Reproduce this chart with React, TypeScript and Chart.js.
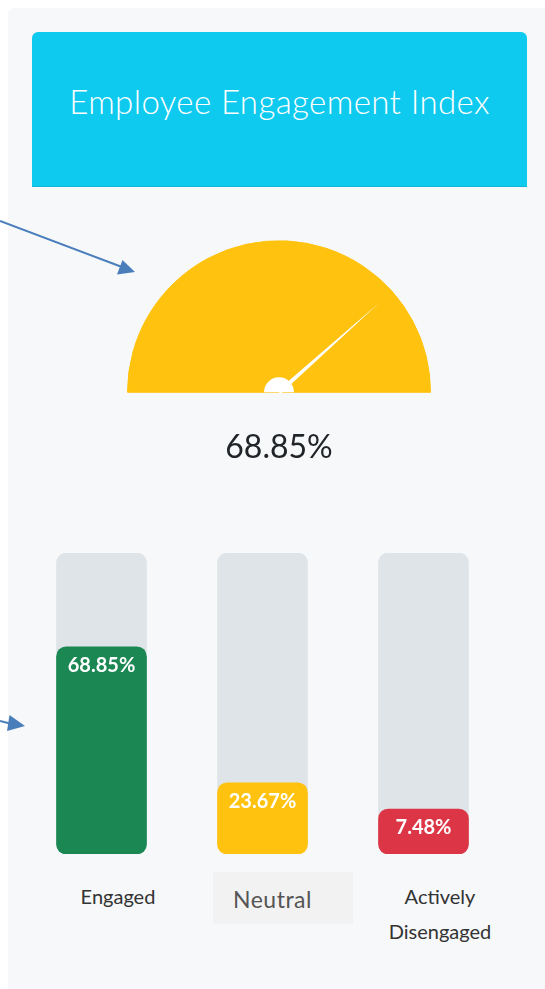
import React, { useEffect, useRef } from "react";
import { Chart, registerables } from "chart.js";

Chart.register(...registerables);

// ---- data ----
const titleText = "Employee Engagement Index";
const gaugeValue = 68.85;
const needleValue = 76.8; // needle angle as drawn in the reference (percent of half circle)
const categories = ["Engaged", "Neutral", "Actively Disengaged"];
const categoryLines = [["Engaged"], ["Neutral"], ["Actively", "Disengaged"]];
const values = [68.85, 23.67, 7.48];
const trackValues = [100, 100, 100];
const barColors = ["#1b8753", "#ffc20e", "#dc3545"];
const trackColor = "#dee4e8";
const gaugeColor = "#ffc20e";

const FONT = "Lato, 'Open Sans', sans-serif";

function Gauge() {
  const ref = useRef<HTMLCanvasElement | null>(null);
  useEffect(() => {
    if (!ref.current) return;
    const gaugePlugin = {
      id: "gaugeNeedle",
      afterDatasetsDraw(chart: any) {
        const el = chart.getDatasetMeta(0).data[0] as any;
        if (!el) return;
        const ctx = chart.ctx;
        const cx = el.x;
        const cy = el.y;
        const R = el.outerRadius;
        const ang = Math.PI * (1 + needleValue / 100);
        const len = R * 0.89;
        const tx = cx + Math.cos(ang) * len;
        const ty = cy + Math.sin(ang) * len;
        const px = Math.cos(ang + Math.PI / 2) * 2.2;
        const py = Math.sin(ang + Math.PI / 2) * 2.2;
        ctx.save();
        ctx.fillStyle = "#ffffff";
        ctx.beginPath();
        ctx.moveTo(cx + px, cy + py);
        ctx.lineTo(tx, ty);
        ctx.lineTo(cx - px, cy - py);
        ctx.closePath();
        ctx.fill();
        ctx.beginPath();
        ctx.arc(cx, cy, 15, Math.PI, 2 * Math.PI);
        ctx.closePath();
        ctx.fill();
        ctx.fillStyle = "#212529";
        ctx.font = `400 32px ${FONT}`;
        ctx.textAlign = "center";
        ctx.textBaseline = "alphabetic";
        ctx.fillText(gaugeValue.toFixed(2) + "%", cx, cy + 66);
        ctx.restore();
      },
    };
    const chart = new Chart(ref.current, {
      type: "doughnut",
      data: {
        labels: ["value", "rest"],
        datasets: [
          {
            data: [gaugeValue, 100 - gaugeValue],
            backgroundColor: [gaugeColor, gaugeColor],
            borderColor: [gaugeColor, gaugeColor],
            borderWidth: 1,
          },
        ],
      },
      options: {
        responsive: false,
        animation: false,
        rotation: -90,
        circumference: 180,
        cutout: 0,
        layout: { padding: { bottom: 80 } },
        plugins: { legend: { display: false }, tooltip: { enabled: false } },
      },
      plugins: [gaugePlugin],
    });
    return () => chart.destroy();
  }, []);
  return (
    <canvas
      ref={ref}
      width={304}
      height={233}
      style={{ position: "absolute", left: 127, top: 240, width: 304, height: 233 }}
    />
  );
}

function Bars() {
  const ref = useRef<HTMLCanvasElement | null>(null);
  useEffect(() => {
    if (!ref.current) return;
    const labelPlugin = {
      id: "barLabels",
      afterDatasetsDraw(chart: any) {
        const meta = chart.getDatasetMeta(0);
        const ctx = chart.ctx;
        ctx.save();
        ctx.fillStyle = "#ffffff";
        ctx.font = `700 20px ${FONT}`;
        ctx.textAlign = "center";
        ctx.textBaseline = "middle";
        meta.data.forEach((el: any, i: number) => {
          ctx.fillText(values[i].toFixed(2) + "%", el.x, el.y + 19);
        });
        ctx.restore();
      },
    };
    const chart = new Chart(ref.current, {
      type: "bar",
      data: {
        labels: categories,
        datasets: [
          {
            data: values,
            backgroundColor: barColors,
            barThickness: 90,
            borderRadius: 10,
            borderSkipped: false,
            minBarLength: 45,
            grouped: false,
          } as any,
          {
            data: trackValues,
            backgroundColor: trackColor,
            barThickness: 90,
            borderRadius: 10,
            borderSkipped: false,
            grouped: false,
          } as any,
        ],
      },
      options: {
        responsive: false,
        animation: false,
        layout: { padding: 0 },
        scales: {
          x: { display: false },
          y: { display: false, min: 0, max: 100 },
        },
        plugins: { legend: { display: false }, tooltip: { enabled: false } },
      },
      plugins: [labelPlugin],
    });
    return () => chart.destroy();
  }, []);
  return (
    <canvas
      ref={ref}
      width={483}
      height={301}
      style={{ position: "absolute", left: 21, top: 553, width: 483, height: 301 }}
    />
  );
}

export default function App() {
  const labelBase: React.CSSProperties = {
    position: "absolute",
    fontFamily: FONT,
    fontSize: 20,
    color: "#333333",
    textAlign: "center",
    whiteSpace: "nowrap",
  };
  return (
    <div style={{ position: "relative", width: 545, height: 989, overflow: "hidden" }}>
      <style>{"body{margin:0;overflow:hidden;}"}</style>
      <div
        style={{
          position: "absolute",
          left: 8,
          top: 8,
          width: 537,
          height: 981,
          background: "#f7f8fa",
          borderTopLeftRadius: 6,
        }}
      />
      <div
        style={{
          position: "absolute",
          left: 32,
          top: 32,
          width: 495,
          height: 154,
          background: "#0fcaef",
          borderTopLeftRadius: 6,
          borderTopRightRadius: 6,
          borderBottom: "1px solid #10b5d6",
        }}
      />
      <div
        style={{
          position: "absolute",
          left: 32,
          top: 80.5,
          width: 495,
          textAlign: "center",
          fontFamily: FONT,
          fontWeight: 300,
          fontSize: 33,
          lineHeight: "40px",
          letterSpacing: 0.4,
          color: "#ffffff",
          whiteSpace: "nowrap",
        }}
      >
        {titleText}
      </div>
      <Gauge />
      <Bars />
      <div style={{ ...labelBase, left: 58, top: 884, width: 120, lineHeight: "24px" }}>
        {categoryLines[0][0]}
      </div>
      <div
        style={{
          position: "absolute",
          left: 213,
          top: 872,
          width: 140,
          height: 52,
          background: "#f2f2f2",
        }}
      />
      <div
        style={{
          ...labelBase,
          left: 233,
          top: 885,
          textAlign: "left",
          fontSize: 23,
          lineHeight: "28px",
          letterSpacing: 0.5,
          color: "#555555",
        }}
      >
        {categoryLines[1][0]}
      </div>
      <div style={{ ...labelBase, left: 380, top: 879, width: 120, lineHeight: "34.7px" }}>
        {categoryLines[2].map((l, i) => (
          <div key={i}>{l}</div>
        ))}
      </div>
      <svg
        width={545}
        height={989}
        style={{ position: "absolute", left: 0, top: 0, pointerEvents: "none" }}
      >
        <line x1={0} y1={221} x2={122} y2={267} stroke="#4a7ebb" strokeWidth={2} />
        <polygon points="135,272 117,274.5 122.5,260" fill="#4a7ebb" />
        <line x1={0} y1={721} x2={12} y2={724} stroke="#4a7ebb" strokeWidth={2} />
        <polygon points="25,726 7,731 9.5,715" fill="#4a7ebb" />
      </svg>
    </div>
  );
}
